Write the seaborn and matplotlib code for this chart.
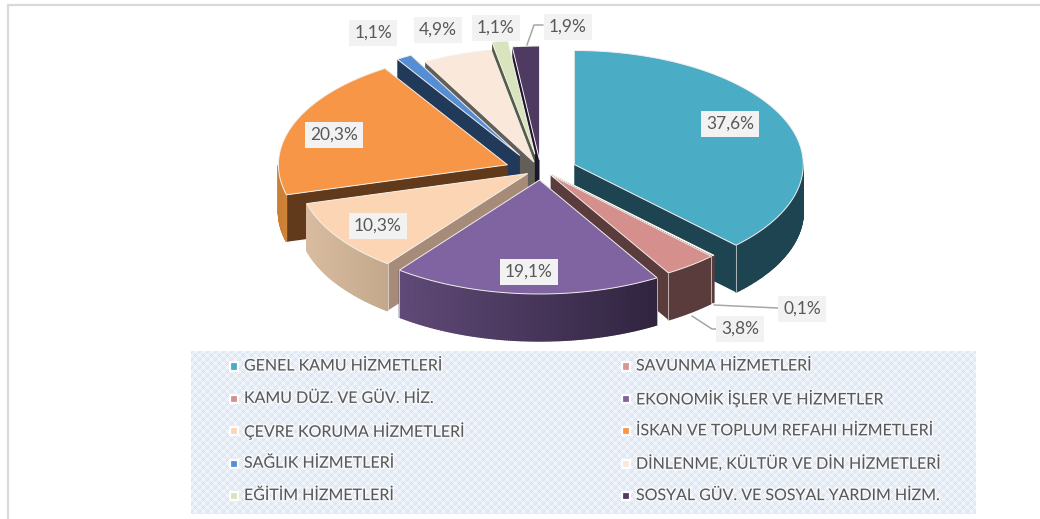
import numpy as np
import pandas as pd
import matplotlib
matplotlib.use('Agg')
import matplotlib.pyplot as plt
import matplotlib.patheffects as pe
import seaborn as sns

categories = ['GENEL KAMU HİZMETLERİ', 'SAVUNMA HİZMETLERİ', 'KAMU DÜZ. VE GÜV. HİZ.',
              'EKONOMİK İŞLER VE HİZMETLER', 'ÇEVRE KORUMA HİZMETLERİ',
              'İSKAN VE TOPLUM REFAHI HİZMETLERİ', 'SAĞLIK HİZMETLERİ',
              'DİNLENME, KÜLTÜR VE DİN HİZMETLERİ', 'EĞİTİM HİZMETLERİ',
              'SOSYAL GÜV. VE SOSYAL YARDIM HİZM.']
shares = [37.6, 0.1, 3.8, 19.1, 10.3, 20.3, 1.1, 4.9, 1.1, 1.9]
top_colors = ['#4BACC6', '#D99694', '#D58F8C', '#8064A2', '#FCD5B5',
              '#F79646', '#558ED5', '#FAE9DB', '#D7E4BD', '#4F3A62']
side_colors = ['#1D4450', '#5A3C3C', '#5A3C3C', '#30243F', '#A68C78',
               '#613A1C', '#223A5A', '#635E58', '#555C48', '#1E1630']
rim_left = ['#1D4450', '#5A3C3C', '#5A3C3C', '#604A78', '#D9BCA0',
            '#C97F35', '#223A5A', '#635E58', '#555C48', '#1E1630']
rim_right = ['#1D4450', '#5A3C3C', '#5A3C3C', '#30243F', '#C4A88C',
             '#D08538', '#223A5A', '#635E58', '#555C48', '#1E1630']

# how far each slice is pulled out, pixels
explode = [36, 16, 16, 25, 16, 36, 42, 21, 40, 25]
draw_order = [9, 8, 7, 6, 0, 5, 1, 4, 2, 3]
label_text = ['37,6%', '0,1%', '3,8%', '19,1%', '10,3%', '20,3%', '1,1%', '4,9%', '1,1%', '1,9%']
label_xy = [(730, 124), (802, 309), (740, 329), (529, 272), (378, 226),
            (334, 135), (373, 33), (438, 30), (496, 28), (568, 27)]
leaders = {1: [(714, 305), (778, 308)],
           2: [(692, 316), (712, 329), (720, 329)],
           9: [(527, 45), (534, 25), (543, 25)]}

CX, CY = 541, 170
RX, RY = 229, 114
DEPTH, SQUASH = 47, 0.4

sns.set_theme(style='white')
plt.rcParams['font.family'] = ['Lato', 'DejaVu Sans']

fig, ax = plt.subplots(figsize=(10.4, 5.19), dpi=100)
fig.subplots_adjust(0, 0, 1, 1)
ax.axis('off')


def hex_mix(c1, c2, t):
    a = np.array(matplotlib.colors.to_rgb(c1))
    b = np.array(matplotlib.colors.to_rgb(c2))
    return a + (b - a) * t


def arc(cx, cy, a1, a2):
    th = np.radians(np.linspace(a1, a2, max(int(a2 - a1) * 2, 2)))
    return cx + RX * np.sin(th), cy - RY * np.cos(th)


# frame lines of the screenshot
ax.plot([8, 1040], [5, 5], color='#D9D9D9', lw=1.6, solid_capstyle='butt')
ax.plot([8, 8], [4, 519], color='#D9D9D9', lw=1.6, solid_capstyle='butt')

# textured legend background
yy, xx = np.mgrid[0:163, 0:785]
rings = 0.5 + 0.5 * np.cos(2 * np.pi * xx / 8) * np.cos(2 * np.pi * yy / 8)
tex = 0.35 * ((xx + yy) % 2) + 0.45 * rings
light = np.array([1.0, 1.0, 1.0])
dark = np.array(matplotlib.colors.to_rgb('#BFD6F7'))
ax.imshow(light + (dark - light) * tex[..., None], extent=(191, 976, 514, 351),
          aspect='auto', interpolation='bilinear', zorder=1)

# exploded 3D pie, back slices first
edges = np.cumsum([0] + shares) / np.sum(shares) * 360
for i in draw_order:
    a1, a2 = edges[i], edges[i + 1]
    mid = np.radians((a1 + a2) / 2)
    cx = CX + explode[i] * np.sin(mid)
    cy = CY - explode[i] * np.cos(mid) * SQUASH
    xs, ys = arc(cx, cy, a1, a2)

    # cut faces
    for ex, ey in [(xs[0], ys[0]), (xs[-1], ys[-1])]:
        ax.fill([cx, ex, ex, cx], [cy, ey, ey + DEPTH, cy + DEPTH],
                color=side_colors[i], lw=0, zorder=3)

    # outer wall, only the part that faces the viewer
    lo, hi = max(a1, 90), min(a2, 270)
    if hi > lo:
        wx, wy = arc(cx, cy, lo, hi)
        for k in range(len(wx) - 1):
            # wall gets its shade from left to right
            t = (wx[k] - wx.min()) / max(wx.max() - wx.min(), 1)
            shade = hex_mix(rim_left[i], rim_right[i], t)
            ax.fill([wx[k], wx[k + 1], wx[k + 1], wx[k]],
                    [wy[k], wy[k + 1], wy[k + 1] + DEPTH, wy[k] + DEPTH],
                    facecolor=shade, edgecolor=shade, lw=1.0, zorder=3)

    ax.fill(np.r_[cx, xs], np.r_[cy, ys], facecolor=top_colors[i],
            edgecolor='#F4F0EC', lw=0.7, zorder=3)
    # vertical corner highlights, front corners only
    for ang, ex, ey in [(a1, xs[0], ys[0]), (a2, xs[-1], ys[-1])]:
        if 90 < ang < 230 and i != 1:
            ax.plot([ex, ex], [ey, ey + DEPTH], color='#E8E4E0', lw=0.5, zorder=3)

# leader lines and data labels
for i, pts in leaders.items():
    ax.plot(*zip(*pts), color='#A6A6A6', lw=1.1, zorder=4)
for txt, (x, y) in zip(label_text, label_xy):
    ax.text(x, y, txt, ha='center', va='center', fontsize=12.5, color='#595959', zorder=5,
            bbox=dict(boxstyle='square,pad=0.3', fc='#F2F2F2', ec='none'))

# legend, two columns filled row by row
legend_df = pd.DataFrame({
    'name': categories,
    'col': [i % 2 for i in range(len(categories))],
    'row': [i // 2 for i in range(len(categories))],
})
legend_df['x'] = 234 + legend_df['col'] * 392
legend_df['y'] = 366.5 + legend_df['row'] * 32.4
sns.scatterplot(data=legend_df, x='x', y='y', hue='name', palette=dict(zip(categories, top_colors)),
                marker='s', s=34, edgecolor='white', linewidth=1.6, legend=False, zorder=5, ax=ax)
for _, r in legend_df.iterrows():
    ax.text(r['x'] + 10, r['y'], r['name'], ha='left', va='center', fontsize=11.5, color='#595959', zorder=5,
            path_effects=[pe.withStroke(linewidth=2.5, foreground='white', alpha=0.55)])

ax.set_xlim(0, 1040)
ax.set_ylim(519, 0)
ax.set_xlabel('')
ax.set_ylabel('')
fig.savefig('out.png', dpi=100, facecolor='white')
